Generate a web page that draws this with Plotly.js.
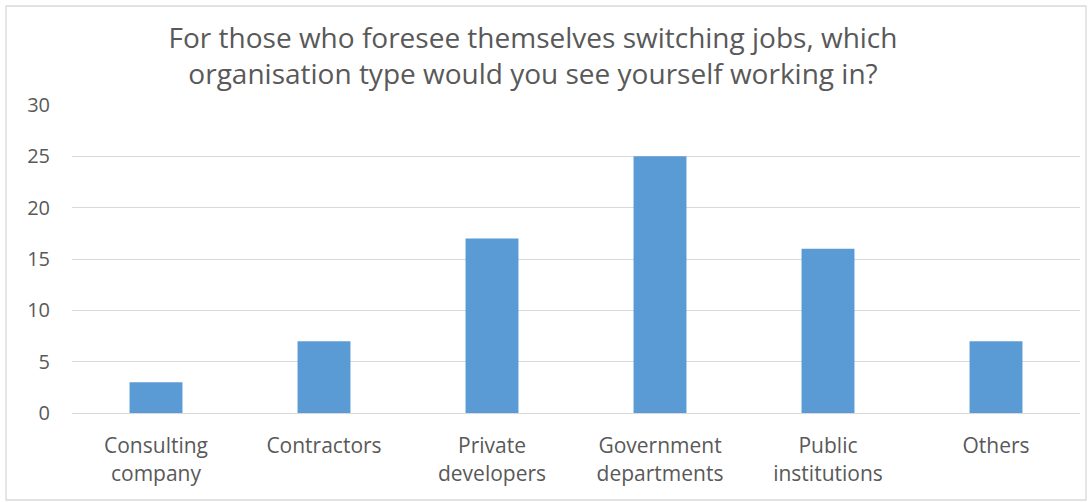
<!DOCTYPE html>
<html>
<head>
<meta charset="utf-8">
<script src="https://cdn.plot.ly/plotly-3.0.1.min.js"></script>
<style>html,body{margin:0;padding:0;background:#fff;}#chart{width:1088px;height:502px;}</style>
</head>
<body>
<div id="chart"></div>
<script>
const categories = ["Consulting<br>company", "Contractors", "Private<br>developers", "Government<br>departments", "Public<br>institutions", "Others"];
const counts = [3, 7, 17, 25, 16, 7];
const yTicks = [0, 5, 10, 15, 20, 25, 30];
const titleText = "For those who foresee themselves switching jobs, which<br>organisation type would you see yourself working in?";

const W = 1088, H = 502;
const m = {l: 72, r: 8, t: 105, b: 89};
const pw = W - m.l - m.r, ph = H - m.t - m.b;
const font = "Open Sans, Noto Sans, sans-serif";

Plotly.newPlot("chart", [{
  type: "bar",
  x: categories,
  y: counts,
  marker: {color: "#5b9bd5"},
  width: 0.315,
  hoverinfo: "x+y"
}], {
  width: W, height: H,
  margin: m,
  paper_bgcolor: "#fff",
  plot_bgcolor: "#fff",
  showlegend: false,
  font: {family: font, color: "#595959", size: 20},
  title: {
    text: titleText,
    font: {family: font, size: 28, color: "#595959"},
    x: 533 / W, xanchor: "center",
    y: 1 - 48 / H, yanchor: "middle"
  },
  xaxis: {
    type: "category",
    showgrid: false,
    showline: true, linecolor: "#d9d9d9", linewidth: 1.3,
    ticks: "",
    ticklabelstandoff: 14,
    tickfont: {family: font, size: 21, color: "#595959"},
    tickangle: 0
  },
  yaxis: {
    range: [0, 30],
    tickvals: yTicks,
    showgrid: true, gridcolor: "#d9d9d9", gridwidth: 1,
    zeroline: false, showline: false,
    ticks: "",
    ticklabelstandoff: 21,
    tickfont: {family: font, size: 20, color: "#595959"}
  },
  shapes: [{
    type: "rect", xref: "paper", yref: "paper",
    x0: (6 - m.l) / pw, x1: (1086 - m.l) / pw,
    y0: (H - m.b - 500) / ph, y1: (H - m.b - 6) / ph,
    line: {color: "#d9d9d9", width: 1.3},
    fillcolor: "rgba(0,0,0,0)", layer: "below"
  }]
}, {displayModeBar: false, staticPlot: false});
</script>
</body>
</html>
